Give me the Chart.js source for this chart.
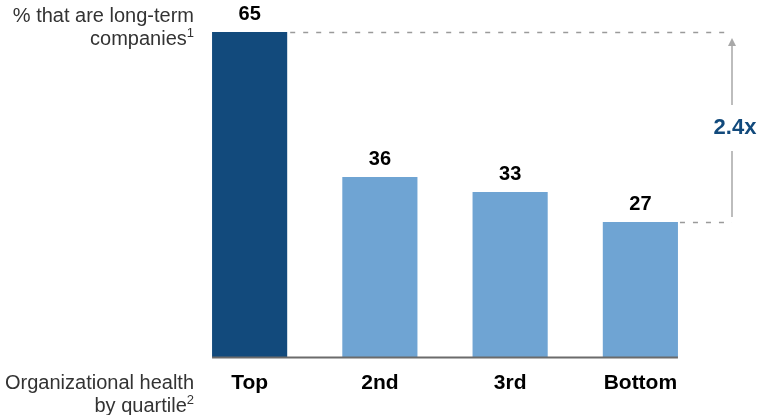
<!DOCTYPE html>
<html>
<head>
<meta charset="utf-8">
<script src="https://cdn.jsdelivr.net/npm/chart.js@4/dist/chart.umd.min.js"></script>
<style>
  html, body { margin: 0; padding: 0; background: #fff; }
  #wrap { position: relative; width: 761px; height: 415px; }
</style>
</head>
<body>
<div id="wrap"><canvas id="myChart" width="761" height="415"></canvas></div>
<script>
const quartiles = ['Top', '2nd', '3rd', 'Bottom'];
const longTermShare = [65, 36, 33, 27];
const ratioLabel = '2.4x';

const darkBlue = '#124a7c';
const lightBlue = '#6fa4d3';
const fontFamily = "'Liberation Sans', Arial, sans-serif";

const barColors = quartiles.map((q, i) => i === 0 ? darkBlue : lightBlue);

const annotations = {
    id: 'annotations',
    afterDraw: (chart) => {
        const ctx = chart.ctx;
        const meta = chart.getDatasetMeta(0);
        const yScale = chart.scales.y;
        ctx.save();

        // value labels above bars
        ctx.font = "bold 20px " + fontFamily;
        ctx.fillStyle = '#000';
        ctx.textAlign = 'center';
        ctx.textBaseline = 'alphabetic';
        meta.data.forEach((bar, i) => {
            ctx.fillText(longTermShare[i], bar.x, bar.y - 12);
        });

        // category labels under bars
        ctx.font = "bold 21px " + fontFamily;
        meta.data.forEach((bar, i) => {
            ctx.fillText(quartiles[i], bar.x, 389);
        });

        // baseline only under the bars
        const first = meta.data[0];
        const last = meta.data[meta.data.length - 1];
        const baseY = yScale.getPixelForValue(0);
        ctx.strokeStyle = '#6b6b6b';
        ctx.lineWidth = 2;
        ctx.beginPath();
        ctx.moveTo(first.x - first.width / 2, baseY + 0.5);
        ctx.lineTo(last.x + last.width / 2, baseY + 0.5);
        ctx.stroke();

        // dashed reference lines from top and bottom bars
        const arrowX = 732;
        const topY = yScale.getPixelForValue(longTermShare[0]);
        const lowY = yScale.getPixelForValue(longTermShare[longTermShare.length - 1]);
        ctx.strokeStyle = '#9a9a9a';
        ctx.lineWidth = 1.5;
        ctx.setLineDash([5, 8]);
        ctx.beginPath();
        ctx.moveTo(first.x + first.width / 2 + 3, topY + 0.5);
        ctx.lineTo(arrowX, topY + 0.5);
        ctx.moveTo(last.x + last.width / 2 + 2, lowY + 0.5);
        ctx.lineTo(arrowX, lowY + 0.5);
        ctx.stroke();
        ctx.setLineDash([]);

        // vertical arrow with gap for the ratio text
        const midY = (topY + lowY) / 2 + 1;
        ctx.strokeStyle = '#a8a8a8';
        ctx.lineWidth = 1.5;
        ctx.beginPath();
        ctx.moveTo(arrowX, lowY - 5);
        ctx.lineTo(arrowX, midY + 23);
        ctx.moveTo(arrowX, midY - 23);
        ctx.lineTo(arrowX, topY + 9);
        ctx.stroke();
        ctx.fillStyle = '#a8a8a8';
        ctx.beginPath();
        ctx.moveTo(arrowX, topY + 6);
        ctx.lineTo(arrowX - 4, topY + 14);
        ctx.lineTo(arrowX + 4, topY + 14);
        ctx.closePath();
        ctx.fill();

        ctx.font = "bold 22px " + fontFamily;
        ctx.fillStyle = darkBlue;
        ctx.textAlign = 'center';
        ctx.textBaseline = 'middle';
        ctx.fillText(ratioLabel, 735, midY);

        // left side titles
        ctx.font = "20px " + fontFamily;
        ctx.fillStyle = '#333';
        ctx.textAlign = 'right';
        ctx.textBaseline = 'alphabetic';
        ctx.fillText('% that are long-term', 194, 22);
        drawSup(ctx, 'companies', '1', 194, 45);
        ctx.fillText('Organizational health', 194, 389);
        drawSup(ctx, 'by quartile', '2', 194, 412);

        ctx.restore();
    }
};

function drawSup(ctx, text, sup, rightX, y) {
    ctx.font = "13px " + fontFamily;
    const supW = ctx.measureText(sup).width;
    ctx.textAlign = 'right';
    ctx.fillText(sup, rightX, y - 8);
    ctx.font = "20px " + fontFamily;
    ctx.fillText(text, rightX - supW, y);
}

new Chart(document.getElementById('myChart'), {
    type: 'bar',
    data: {
        labels: quartiles,
        datasets: [{
            data: longTermShare,
            backgroundColor: barColors,
            borderWidth: 0,
            categoryPercentage: 1,
            barPercentage: 0.577
        }]
    },
    options: {
        responsive: false,
        animation: false,
        events: [],
        layout: { padding: { left: 184.5, right: 55.5, top: 32, bottom: 58 } },
        plugins: { legend: { display: false }, tooltip: { enabled: false } },
        scales: {
            x: { display: false },
            y: { display: false, min: 0, max: 65 }
        }
    },
    plugins: [annotations]
});
</script>
</body>
</html>
